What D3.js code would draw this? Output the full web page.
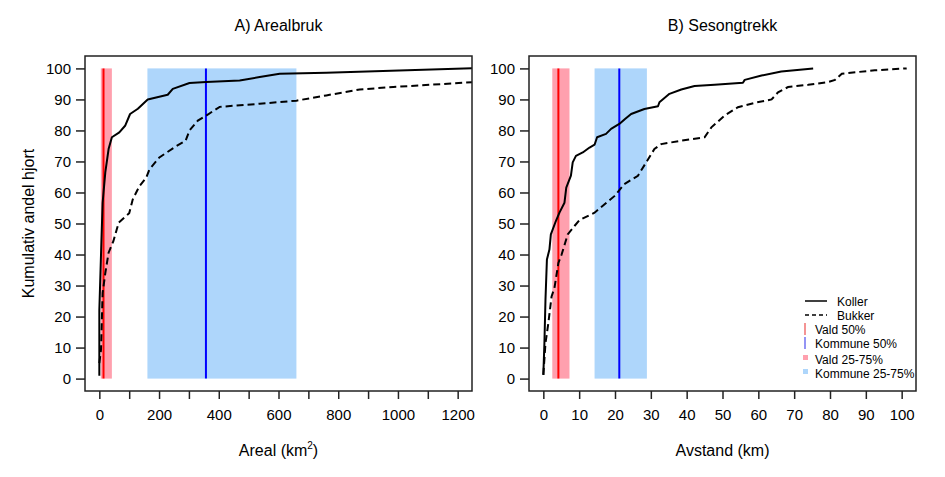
<!DOCTYPE html>
<html><head><meta charset="utf-8">
<script src="https://cdn.jsdelivr.net/npm/d3@7"></script>
<style>body{margin:0;background:#fff}text{font-family:"Liberation Sans",Arial,sans-serif}</style>
</head><body><svg id="c" width="945" height="477"></svg>
<script>
// Panel A: Arealbruk (km2)
const arealKollerX = [0,0,5,11,20,31,42,67,87,103,129,162,229,246,302,358,470,537,604,760,1260];
const arealKollerY = [0.9,22,38,56.7,66.5,74,77.8,79.4,81.6,85.3,87,90,91.5,93.4,95.3,95.6,96.1,97.2,98.3,98.6,100.1];
const arealBukkerX = [0,5.6,11,20,31,47,58,65,100,112,134,157,168,201,257,289,302,330,358,403,537,660,760,872,984,1260];
const arealBukkerY = [5,9.3,27.6,34,40.6,44.3,48,50.3,53.3,57.8,62,64.8,67.5,71.3,74.9,76.7,80,83.2,84.8,87.6,88.6,89.6,91.3,93.2,94,95.6];
const arealVald50 = 14, arealVald = [5, 42];
const arealKommune50 = 357, arealKommune = [161, 660];
const arealTicks = [0,100,200,300,400,500,600,700,800,900,1000,1100,1200];
const arealLabels = ["0","","200","","400","","600","","800","","1000","","1200"];

// Panel B: Sesongtrekk (km)
const trekkKollerX = [0,0.3,0.6,1.0,1.7,2.1,3.5,4.5,5.9,6.4,7.7,8.2,9.1,11,12.9,14.3,15,17.5,18.9,21.2,22.8,24.5,28.2,32,32.4,35.2,38.5,42.2,47.8,55.7,56.2,60.9,66.4,75.3];
const trekkKollerY = [1.2,11.4,25.5,38.4,41.6,46.5,50.8,53.5,56.7,61.6,65.4,69.7,71.8,72.9,74.5,75.4,77.8,78.9,80.5,82.1,83.7,85.3,86.9,87.8,89.1,91.8,93.2,94.3,94.7,95.4,96.3,97.7,99,100];
const trekkBukkerX = [0,0.6,1.4,2.3,3.1,4.2,5.1,6.1,6.8,8.7,10.1,14.3,17.1,19.9,22.6,26.4,28.7,31,32.9,38.5,45,46.9,50.6,54.3,59,63.7,65.5,68.3,73.9,79.5,81.4,83.3,92.5,101.4];
const trekkBukkerY = [1.2,11.4,17.9,26.5,29.2,37.3,40,43.8,46.5,49.2,51.1,53.5,56.2,58.9,62.7,65.4,69.7,74,75.6,76.7,77.8,81,84.8,87.5,88.9,90,92.3,94,94.7,95.6,96.3,98.3,99.4,100];
const trekkVald50 = 4.2, trekkVald = [2.5, 7.3];
const trekkKommune50 = 21.2, trekkKommune = [14.3, 28.9];
const trekkTicks = [0,10,20,30,40,50,60,70,80,90,100];

const yTicks = [0,10,20,30,40,50,60,70,80,90,100];
const legendLabels = ["Koller","Bukker","Vald 50%","Kommune 50%","Vald 25-75%","Kommune 25-75%"];

const svg = d3.select("#c");
const plotTop = 56, plotBottom = 391;
const y = d3.scaleLinear().domain([-4,104]).range([plotBottom, plotTop]);
const PINK = "#ffa0ae", LBLUE = "#aed6fb";

function panel(id, left, right, xdom, ticks, labels, title, kX, kY, bX, bY, v50, vBand, k50, kBand, xlabel) {
  const x = d3.scaleLinear().domain(xdom).range([left, right]);
  const g = svg.append("g");
  g.append("clipPath").attr("id", id).append("rect")
    .attr("x", left).attr("y", plotTop).attr("width", right-left).attr("height", plotBottom-plotTop);
  const pg = g.append("g").attr("clip-path", `url(#${id})`);
  pg.append("rect").attr("x", x(vBand[0])).attr("width", x(vBand[1])-x(vBand[0]))
    .attr("y", y(100)).attr("height", y(0)-y(100)).attr("fill", PINK);
  pg.append("rect").attr("x", x(kBand[0])).attr("width", x(kBand[1])-x(kBand[0]))
    .attr("y", y(100)).attr("height", y(0)-y(100)).attr("fill", LBLUE);
  pg.append("line").attr("x1", x(v50)).attr("x2", x(v50)).attr("y1", y(0)).attr("y2", y(100))
    .attr("stroke", "#ff0000").attr("stroke-width", 2);
  pg.append("line").attr("x1", x(k50)).attr("x2", x(k50)).attr("y1", y(0)).attr("y2", y(100))
    .attr("stroke", "#0000ff").attr("stroke-width", 2);
  const line = d3.line().x(d => x(d[0])).y(d => y(d[1]));
  pg.append("path").datum(d3.zip(kX, kY)).attr("d", line).attr("fill", "none")
    .attr("stroke", "#000").attr("stroke-width", 2).attr("stroke-linejoin", "round");
  pg.append("path").datum(d3.zip(bX, bY)).attr("d", line).attr("fill", "none")
    .attr("stroke", "#000").attr("stroke-width", 2).attr("stroke-dasharray", "7,4");
  g.append("rect").attr("x", left).attr("y", plotTop).attr("width", right-left).attr("height", plotBottom-plotTop)
    .attr("fill", "none").attr("stroke", "#222").attr("stroke-width", 1.5);
  const ax = d3.axisBottom(x).tickValues(ticks).tickSize(8).tickPadding(10)
    .tickFormat((d, i) => labels ? labels[i] : d);
  const xa = g.append("g").attr("transform", `translate(0,${plotBottom})`).call(ax);
  xa.select(".domain").remove();
  xa.selectAll("line").attr("stroke", "#222").attr("stroke-width", 1.5);
  xa.selectAll("text").attr("font-size", 15).attr("fill", "#000").attr("font-family", "Liberation Sans, Arial");
  const ay = d3.axisLeft(y).tickValues(yTicks).tickSize(9).tickPadding(5);
  const ya = g.append("g").attr("transform", `translate(${left},0)`).call(ay);
  ya.select(".domain").remove();
  ya.selectAll("line").attr("stroke", "#222").attr("stroke-width", 1.5);
  ya.selectAll("text").attr("font-size", 15).attr("fill", "#000").attr("font-family", "Liberation Sans, Arial");
  g.append("text").attr("x", (left+right)/2).attr("y", 31).attr("text-anchor", "middle")
    .attr("font-size", 16).text(title);
  const xt = g.append("text").attr("x", (left+right)/2).attr("y", 456).attr("text-anchor", "middle")
    .attr("font-size", 16);
  xlabel(xt);
  return x;
}

panel("clipA", 85, 472, [-48,1248], arealTicks, arealLabels, "A) Arealbruk",
  arealKollerX, arealKollerY, arealBukkerX, arealBukkerY, arealVald50, arealVald, arealKommune50, arealKommune,
  t => { t.append("tspan").text("Areal (km"); t.append("tspan").attr("font-size", 10).attr("dy", -7).text("2");
         t.append("tspan").attr("dy", 7).text(")"); });
panel("clipB", 529, 916, [-4,104], trekkTicks, null, "B) Sesongtrekk",
  trekkKollerX, trekkKollerY, trekkBukkerX, trekkBukkerY, trekkVald50, trekkVald, trekkKommune50, trekkKommune,
  t => t.text("Avstand (km)"));

svg.append("text").attr("transform", `translate(34,${(plotTop+plotBottom)/2}) rotate(-90)`)
  .attr("text-anchor", "middle").attr("font-size", 16).text("Kumulativ andel hjort");

// Legend
const lg = svg.append("g").attr("font-size", 12);
const ly = [305, 319, 333, 347, 363, 377];
lg.append("line").attr("x1", 805).attr("x2", 827).attr("y1", ly[0]-4).attr("y2", ly[0]-4).attr("stroke", "#000").attr("stroke-width", 1.5);
lg.append("line").attr("x1", 805).attr("x2", 827).attr("y1", ly[1]-4).attr("y2", ly[1]-4).attr("stroke", "#000").attr("stroke-width", 1.5).attr("stroke-dasharray", "4,3");
lg.append("line").attr("x1", 805).attr("x2", 805).attr("y1", ly[2]-10).attr("y2", ly[2]+2).attr("stroke", "#f07070").attr("stroke-width", 1.5);
lg.append("line").attr("x1", 805).attr("x2", 805).attr("y1", ly[3]-10).attr("y2", ly[3]+2).attr("stroke", "#7070f0").attr("stroke-width", 1.5);
lg.append("rect").attr("x", 803).attr("y", ly[4]-8).attr("width", 5).attr("height", 5).attr("fill", PINK);
lg.append("rect").attr("x", 803).attr("y", ly[5]-8).attr("width", 5).attr("height", 5).attr("fill", LBLUE);
legendLabels.forEach((l, i) => {
  lg.append("text").attr("x", i < 2 ? 837 : 815).attr("y", ly[i]+1).text(l);
});
</script></body></html>
